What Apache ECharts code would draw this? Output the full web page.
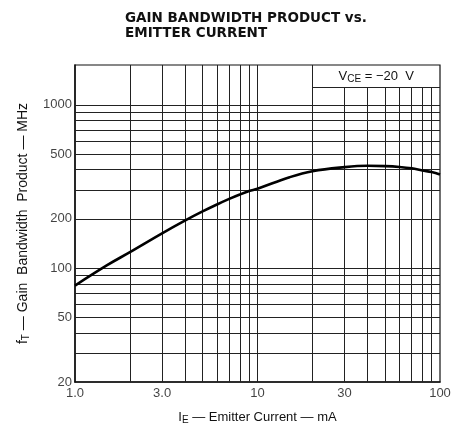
<!DOCTYPE html>
<html>
<head>
<meta charset="utf-8">
<script src="https://cdn.jsdelivr.net/npm/echarts@6/dist/echarts.min.js"></script>
<style>html,body{margin:0;padding:0;background:#fff}#c{width:452px;height:432px}</style>
</head>
<body>
<div id="c"></div>
<script>
// ---- data ----
var currentMA = [1, 1.5, 2, 3, 4, 5, 6, 7, 8, 9, 10, 15, 20, 30, 40, 50, 60, 70, 80, 90, 100];
var ftMHz     = [78, 104, 125, 163, 195, 222, 245, 265, 282, 296, 306, 360, 392, 415, 423, 421, 416, 408, 396, 387, 374];
var xTickValues = [1, 3, 10, 30, 100];
var xTickLabels = ['1.0', '3.0', '10', '30', '100'];
var yTickValues = [20, 50, 100, 200, 500, 1000];
var yTickLabels = ['20', '50', '100', '200', '500', '1000'];
var xGridFull  = [2, 3, 4, 5, 6, 7, 8, 9, 10, 20];
var xGridShort = [30, 40, 50, 60, 70, 80, 90];
var yGrid = [30, 40, 50, 60, 70, 80, 90, 100, 200, 300, 400, 500, 600, 700, 800, 900, 1000];
var yMin = 20, yMax = 1754, xMin = 1, xMax = 100;
var boxBottom = 1280, boxLeft = 20;

var FONT = 'Liberation Sans';
var chart = echarts.init(document.getElementById('c'));

var gridLines = [];
xGridFull.forEach(function (v) { gridLines.push({ xAxis: v }); });
xGridShort.forEach(function (v) { gridLines.push([{ coord: [v, yMin] }, { coord: [v, boxBottom] }]); });
yGrid.forEach(function (v) { gridLines.push({ yAxis: v }); });
gridLines.push([{ coord: [boxLeft, boxBottom] }, { coord: [xMax, boxBottom] }]);

chart.setOption({
  animation: false,
  title: {
    text: 'GAIN BANDWIDTH PRODUCT vs.\nEMITTER CURRENT',
    left: 120, top: 6,
    textStyle: { fontFamily: 'DejaVu Sans', fontSize: 13.5, fontWeight: 'bold', lineHeight: 15, color: '#111' }
  },
  grid: { left: 75, right: 12, top: 65, bottom: 50, show: true, borderColor: '#111', borderWidth: 1.2 },
  xAxis: {
    type: 'log', logBase: 10, min: xMin, max: xMax,
    axisLine: { show: true, onZero: false, lineStyle: { color: '#111', width: 1.5 } },
    axisTick: { show: false }, axisLabel: { show: false }, splitLine: { show: false },
    name: 'I{s|E} — Emitter Current — mA', nameLocation: 'middle', nameGap: 27,
    nameTextStyle: { fontFamily: FONT, fontSize: 13, color: '#111',
      rich: { s: { fontFamily: FONT, fontSize: 10, verticalAlign: 'bottom', padding: [6, 0, 0, 0] } } }
  },
  yAxis: {
    type: 'log', logBase: 10, min: yMin, max: yMax,
    axisLine: { show: true, onZero: false, lineStyle: { color: '#111', width: 1.5 } },
    axisTick: { show: false }, axisLabel: { show: false }, splitLine: { show: false },
    name: 'f{s|T} — Gain  Bandwidth  Product — MHz', nameLocation: 'middle', nameGap: 44,
    nameTextStyle: { fontFamily: FONT, fontSize: 14, color: '#111',
      rich: { s: { fontFamily: FONT, fontSize: 10, verticalAlign: 'bottom', padding: [6, 0, 0, 0] } } }
  },
  series: [
    {
      type: 'scatter', symbolSize: 0, clip: false, silent: true,
      data: xTickValues.map(function (v, i) { return { value: [v, yMin], name: xTickLabels[i] }; }),
      label: { show: true, position: 'bottom', distance: 5, formatter: '{b}',
        fontFamily: FONT, fontSize: 13, color: '#111' },
      markLine: {
        silent: true, symbol: 'none', label: { show: false },
        lineStyle: { color: '#222', width: 1, type: 'solid' },
        data: gridLines
      },
      markArea: {
        silent: true,
        itemStyle: { color: 'rgba(0,0,0,0)' },
        label: { show: true, position: 'inside', formatter: 'V{s|CE} = −20  V',
          fontFamily: FONT, fontSize: 13, color: '#111',
          rich: { s: { fontFamily: FONT, fontSize: 10, verticalAlign: 'bottom', padding: [6, 0, 0, 0] } } },
        data: [[{ coord: [boxLeft, boxBottom] }, { coord: [xMax, yMax] }]]
      }
    },
    {
      type: 'scatter', symbolSize: 0, clip: false, silent: true,
      data: yTickValues.map(function (v, i) { return { value: [xMin, v], name: yTickLabels[i] }; }),
      label: { show: true, position: 'left', distance: 3, formatter: '{b}',
        fontFamily: FONT, fontSize: 13, color: '#111' }
    },
    {
      type: 'line', smooth: 0.4, showSymbol: false, z: 5,
      lineStyle: { color: '#000', width: 2.6 },
      data: currentMA.map(function (x, i) { return [x, ftMHz[i]]; })
    }
  ]
});
</script>
</body>
</html>
